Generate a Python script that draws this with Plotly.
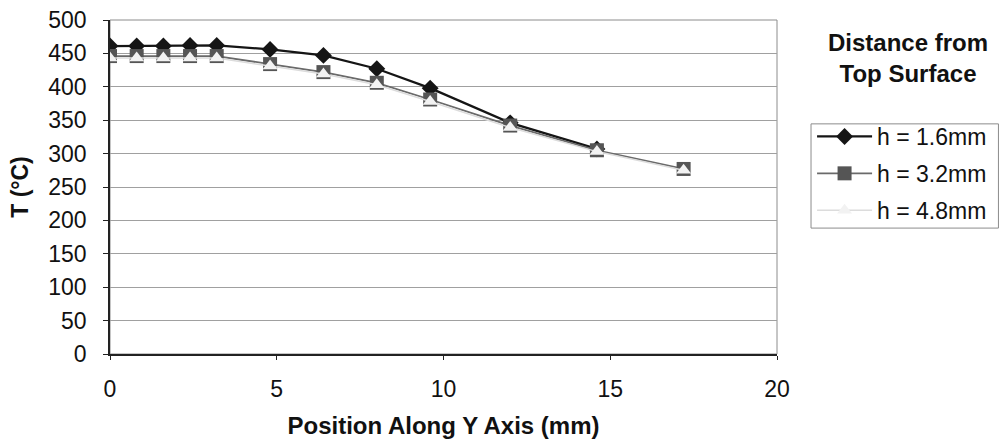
import plotly.graph_objects as go

# Position along the Y axis (mm)
x_h16 = [0.0, 0.8, 1.6, 2.4, 3.2, 4.8, 6.4, 8.0, 9.6, 12.0, 14.6]
x_h32 = [0.0, 0.8, 1.6, 2.4, 3.2, 4.8, 6.4, 8.0, 9.6, 12.0, 14.6, 17.2]
x_h48 = [0.0, 0.8, 1.6, 2.4, 3.2, 4.8, 6.4, 8.0, 9.6, 12.0, 14.6, 17.2]

# Temperature (deg C) at each depth below the top surface
t_h16 = [461, 461, 461, 462, 462, 456, 447, 427, 398, 346, 307]
t_h32 = [446, 446, 446, 446, 446, 434, 422, 406, 381, 342, 305, 277]
t_h48 = [443, 443, 443, 443, 443, 431, 419, 403, 378, 339, 303, 275]

names = ["h = 1.6mm", "h = 3.2mm", "h = 4.8mm"]

x_ticks = [0, 5, 10, 15, 20]
y_ticks = [0, 50, 100, 150, 200, 250, 300, 350, 400, 450, 500]

FONT = "Liberation Sans, Arial, sans-serif"
FS = 23

fig = go.Figure()

fig.add_trace(go.Scatter(
    x=x_h16, y=t_h16, name=names[0], mode="lines+markers", legendgroup="a",
    line=dict(color="#151515", width=2.2),
    marker=dict(symbol="diamond", size=13, color="#151515", line=dict(width=0)),
))
fig.add_trace(go.Scatter(
    x=x_h32, y=t_h32, name=names[1], mode="lines+markers", legendgroup="b",
    line=dict(color="#6a6a6a", width=1.8),
    marker=dict(symbol="square", size=14, color="#555555", line=dict(width=0)),
))
fig.add_trace(go.Scatter(
    x=x_h48, y=t_h48, name=names[2], mode="lines+markers", legendgroup="c",
    line=dict(color="#dcdcdc", width=1.5),
    marker=dict(symbol="triangle-up", size=13, color="#f2f2f2", line=dict(width=0)),
))

# Plot-area frame (right side shows as a thin grey edge)
fig.add_shape(type="rect", xref="paper", yref="paper", x0=0, y0=0, x1=1, y1=1,
              line=dict(color="#8c8c8c", width=1), layer="below")
# Legend box
fig.add_shape(type="rect", xref="paper", yref="paper",
              x0=1.051, y0=0.377, x1=1.332, y1=0.689,
              line=dict(color="#8c8c8c", width=1), fillcolor="white", layer="below")

fig.update_layout(
    width=1003, height=443,
    margin=dict(l=110, r=225, t=20, b=89),
    paper_bgcolor="white", plot_bgcolor="white",
    font=dict(family=FONT, size=FS, color="#111111"),
    showlegend=True,
    legend=dict(
        x=1.051, y=0.7156, xanchor="left", yanchor="top",
        borderwidth=0, bgcolor="rgba(0,0,0,0)",
        font=dict(family=FONT, size=FS, color="#111111"),
        tracegroupgap=4, itemwidth=55, entrywidth=140,
    ),
    xaxis=dict(
        range=[0, 20], tickvals=x_ticks, ticktext=[str(v) for v in x_ticks],
        showgrid=False, zeroline=False, automargin=False,
        showline=True, linecolor="#222222", linewidth=1.5,
        ticks="outside", ticklen=4, tickcolor="#222222",
        ticklabelstandoff=10,
        tickfont=dict(family=FONT, size=FS),
        title=dict(text="<b>Position Along Y Axis (mm)</b>", standoff=16,
                   font=dict(family=FONT, size=24)),
    ),
    yaxis=dict(
        range=[0, 500], tickvals=y_ticks, ticktext=[str(v) for v in y_ticks],
        showgrid=True, gridcolor="#a0a0a0", gridwidth=1, zeroline=False,
        automargin=False,
        showline=True, linecolor="#222222", linewidth=1.5,
        ticks="outside", ticklen=5, tickcolor="#222222",
        ticklabelstandoff=12,
        tickfont=dict(family=FONT, size=FS),
        title=dict(text="<b>T (°C)</b>", standoff=13,
                   font=dict(family=FONT, size=FS)),
    ),
    annotations=[dict(
        text="<b>Distance from<br>Top Surface</b>", xref="paper", yref="paper",
        x=1.196, y=0.979, xanchor="center", yanchor="top", showarrow=False,
        align="center", font=dict(family=FONT, size=24, color="#111111"),
    )],
)

fig.write_html("out.html")
